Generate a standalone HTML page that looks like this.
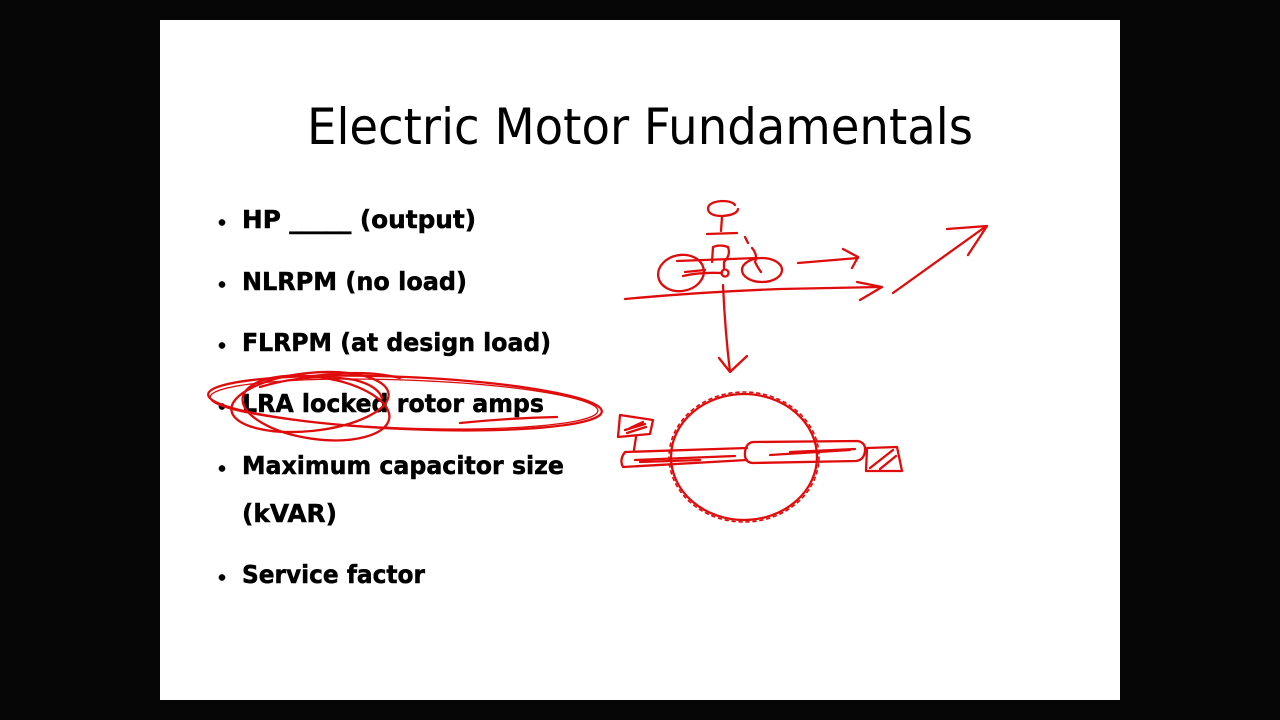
<!DOCTYPE html>
<html>
<head>
<meta charset="utf-8">
<style>
  html,body{margin:0;padding:0;background:#060606;}
  body{width:1280px;height:720px;overflow:hidden;}
  svg{display:block;}
</style>
</head>
<body>
<svg width="1280" height="720" viewBox="0 0 1280 720" xmlns="http://www.w3.org/2000/svg">
  <rect x="0" y="0" width="1280" height="720" fill="#060606"/>
  <rect x="160" y="20" width="960" height="680" fill="#ffffff"/>

  <!-- Title -->
  <text x="307" y="144" font-family="DejaVu Sans, Liberation Sans, sans-serif" font-size="50" fill="#000" textLength="666" lengthAdjust="spacingAndGlyphs">Electric Motor Fundamentals</text>

  <!-- Bullets -->
  <g font-family="DejaVu Sans, Liberation Sans, sans-serif" font-weight="bold" font-size="25" fill="#000" stroke="#000" stroke-width="0.5">
    <circle cx="222" cy="222.5" r="3.1"/>
    <text x="242" y="228" textLength="234" lengthAdjust="spacingAndGlyphs">HP _____ (output)</text>
    <circle cx="222" cy="284.5" r="3.1"/>
    <text x="242" y="290" textLength="225" lengthAdjust="spacingAndGlyphs">NLRPM (no load)</text>
    <circle cx="222" cy="345.5" r="3.1"/>
    <text x="242" y="351" textLength="309" lengthAdjust="spacingAndGlyphs">FLRPM (at design load)</text>
    <circle cx="222" cy="406.5" r="3.1"/>
    <text x="242" y="412" textLength="302" lengthAdjust="spacingAndGlyphs">LRA locked rotor amps</text>
    <circle cx="222" cy="468.5" r="3.1"/>
    <text x="242" y="474" textLength="322" lengthAdjust="spacingAndGlyphs">Maximum capacitor size</text>
    <text x="242" y="522" textLength="95" lengthAdjust="spacingAndGlyphs">(kVAR)</text>
    <circle cx="222" cy="577.5" r="3.1"/>
    <text x="242" y="583" textLength="183" lengthAdjust="spacingAndGlyphs">Service factor</text>
  </g>

  <!-- Red annotations -->
  <g fill="none" stroke="#e00c0c" stroke-width="2.3" stroke-linecap="round" stroke-linejoin="round">
    <!-- LRA ellipses -->
    <ellipse cx="405" cy="403" rx="197" ry="26" transform="rotate(2.5 405 403)"/>
    <ellipse cx="404" cy="404" rx="194" ry="24" transform="rotate(2 404 404)" stroke-width="1.3"/>
    <ellipse cx="310" cy="402" rx="79" ry="29" transform="rotate(-6 310 402)"/>
    <ellipse cx="316" cy="408" rx="74" ry="31" transform="rotate(8 316 408)"/>
    <path d="M260,387 Q310,372 355,380 Q378,386 382,398"/>
    <path d="M300,378 Q360,368 400,378"/>
    <path d="M460,423 Q510,418 557,417"/>

    <!-- Bicycle -->
    <path d="M735,205 Q732,201 722,201 Q708,202 708,209 Q709,216 722,216 Q737,215 738,209"/>
    <path d="M722,217 L721,231"/>
    <path d="M707,234 L737,233"/>
    <path d="M745,237 L748,243"/>
    <path d="M712,262 L713,247 Q720,244 728,247 Q731,255 724,262 L724,269"/>
    <path d="M677,261 L757,258"/>
    <path d="M752,248 Q758,255 755,262 Q758,268 761,272"/>
    <ellipse cx="681" cy="273" rx="23" ry="18" transform="rotate(-10 681 273)"/>
    <ellipse cx="762" cy="270" rx="20" ry="12"/>
    <path d="M683,276 Q700,272 722,273"/>
    <path d="M685,272 L705,270"/>
    <circle cx="725" cy="273" r="3.5"/>
    <!-- ground arrow -->
    <path d="M625,299 Q700,292 780,289 L880,287"/>
    <path d="M857,282 L882,287 L860,300"/>
    <!-- upper arrow -->
    <path d="M798,263 L858,258"/>
    <path d="M843,249 L858,257 L852,268"/>
    <!-- diagonal arrow -->
    <path d="M893,293 L985,227"/>
    <path d="M947,229 L987,226 M968,255 L987,226"/>
    <!-- down arrow -->
    <path d="M723,285 Q725,330 730,372"/>
    <path d="M719,358 L730,372 L747,356"/>

    <!-- Motor circle -->
    <ellipse cx="744" cy="457" rx="73" ry="63"/>
    <ellipse cx="744" cy="457" rx="75" ry="65" stroke-dasharray="3 4" stroke-width="1.6"/>
    <!-- shaft left -->
    <path d="M747,448 L625,452 Q619,460 623,467 L747,460"/>
    <path d="M635,460 L735,456 M640,462 L700,460"/>
    <!-- shaft right rounded -->
    <path d="M753,442 L858,441 Q866,443 865,451 Q864,460 856,461 L752,463 Q744,462 745,452 Q746,443 753,442 Z"/>
    <path d="M770,455 L850,450 M790,452 L855,449"/>
    <!-- left bearing box -->
    <path d="M620,415 L653,420 L650,434 L618,437 Z"/>
    <path d="M625,430 L645,424 M627,433 L646,427 M630,428 L643,422"/>
    <path d="M636,437 L634,450"/>
    <!-- right bearing box -->
    <path d="M867,448 L897,447 L902,471 L866,471 Z"/>
    <path d="M870,468 L893,450 M880,469 L896,456"/>
  </g>
</svg>
</body>
</html>
